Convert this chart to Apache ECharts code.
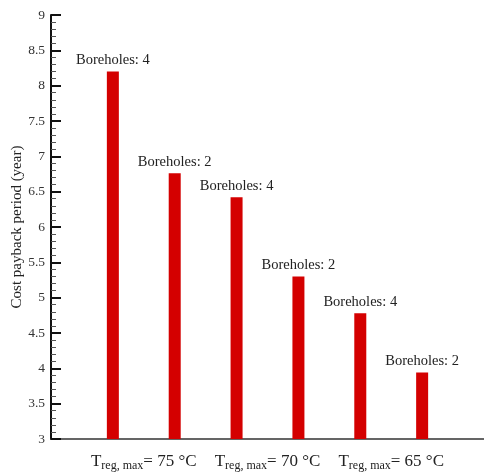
<!DOCTYPE html>
<html>
<head>
<meta charset="utf-8">
<script src="https://cdn.jsdelivr.net/npm/echarts@6/dist/echarts.min.js"></script>
<style>
  html, body { margin: 0; padding: 0; background: #fff; }
  #chart { width: 484px; height: 474px; }
</style>
</head>
<body>
<div id="chart"></div>
<script>
// bar positions along x, payback values, borehole counts
const barPositions = [1, 2, 3, 4, 5, 6];
const paybackYears = [8.2, 6.76, 6.42, 5.3, 4.78, 3.94];
const boreholes = [4, 2, 4, 2, 4, 2];

// group labels sit between each pair of bars
const groupPositions = [1.5, 3.5, 5.5];
const groupTemps = ['75', '70', '65'];

const serif = '"Liberation Serif", "DejaVu Serif", serif';

const chart = echarts.init(document.getElementById('chart'));

const option = {
  animation: false,
  grid: {
    left: 51,
    right: 0,
    top: 15,
    bottom: 35,
    outerBoundsMode: 'none'
  },
  xAxis: {
    type: 'value',
    min: 0,
    max: 7,
    interval: 0.5,
    splitLine: { show: false },
    axisTick: { show: false },
    axisLine: {
      lineStyle: { color: '#333', width: 1.5 }
    },
    axisLabel: {
      margin: 13,
      fontFamily: serif,
      fontSize: 17,
      color: '#222',
      formatter: function (v) {
        const i = groupPositions.indexOf(v);
        if (i < 0) return '';
        return 'T{sub|reg, max}= ' + groupTemps[i] + ' °C';
      },
      rich: {
        sub: {
          fontFamily: serif,
          fontSize: 12,
          color: '#222',
          padding: [8, 0, 0, 0]
        }
      }
    }
  },
  yAxis: {
    type: 'value',
    min: 3,
    max: 9,
    interval: 0.5,
    name: 'Cost payback period (year)',
    nameLocation: 'middle',
    nameGap: 26,
    nameMoveOverlap: false,
    nameTextStyle: {
      fontFamily: serif,
      fontSize: 15,
      color: '#222'
    },
    splitLine: { show: false },
    axisLine: {
      show: true,
      lineStyle: { color: '#111', width: 2 }
    },
    axisTick: {
      show: true,
      inside: true,
      length: 10,
      lineStyle: { color: '#111', width: 2 }
    },
    minorTick: {
      show: true,
      splitNumber: 5,
      length: 5,
      lineStyle: { color: '#555', width: 1 }
    },
    axisLabel: {
      margin: 6,
      fontFamily: serif,
      fontSize: 13.5,
      color: '#333'
    }
  },
  series: [{
    type: 'bar',
    barWidth: 12,
    data: barPositions.map((x, i) => [x, paybackYears[i]]),
    itemStyle: { color: '#d40000' },
    label: {
      show: true,
      position: 'top',
      distance: 4,
      fontFamily: serif,
      fontSize: 14.5,
      color: '#222',
      formatter: p => 'Boreholes: ' + boreholes[p.dataIndex]
    }
  }]
};

chart.setOption(option);
</script>
</body>
</html>
